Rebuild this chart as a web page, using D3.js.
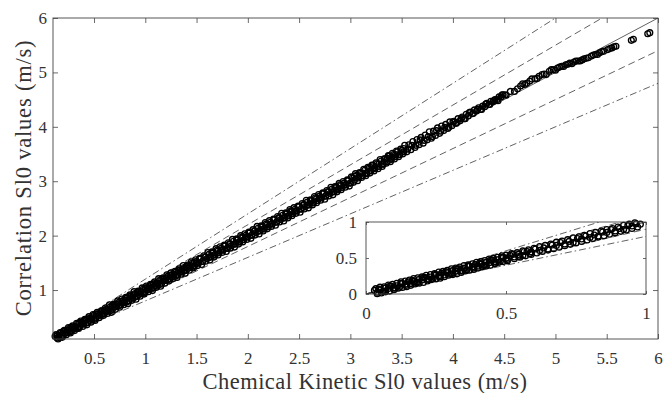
<!DOCTYPE html>
<html><head><meta charset="utf-8">
<script src="https://cdn.jsdelivr.net/npm/d3@7"></script>
<style>
html,body{margin:0;padding:0;background:#fff;}
svg{display:block;}
svg text{font-family:"Liberation Serif","Times New Roman","DejaVu Serif",serif !important;fill:#333;}
</style></head>
<body><svg id="c" width="664" height="393"></svg>
<script>
// ---------- data ----------
const xTicks = [0.5,1,1.5,2,2.5,3,3.5,4,4.5,5,5.5,6];
const yTicks = [1,2,3,4,5,6];
const insetTicks = [0,0.5,1];
const xLabel = "Chemical Kinetic Sl0 values (m/s)";
const yLabel = "Correlation Sl0 values (m/s)";
const refSlopes = [1.2,1.1,1.0,0.9,0.8];
const refStyles = ["dashdot","dashed","solid","dashed","dashdot"];

const kineticSl0 = [
0.12,0.14,0.16,0.18,0.20,0.22,0.24,0.26,0.28,0.30,0.32,0.34,0.36,0.38,0.40,0.42,0.44,0.46,0.48,0.50,
0.52,0.54,0.56,0.58,0.60,0.62,0.64,0.66,0.68,0.70,0.72,0.74,0.76,0.78,0.80,0.82,0.84,0.86,0.88,0.90,
0.92,0.94,0.96,0.98,1.00,1.02,1.04,1.06,1.08,1.10,1.12,1.14,1.16,1.18,1.20,1.22,1.24,1.26,1.28,1.30,
1.32,1.34,1.36,1.38,1.40,1.42,1.44,1.46,1.48,1.50,
1.53,1.56,1.59,1.62,1.65,1.68,1.71,1.74,1.77,1.80,1.83,1.86,1.89,1.92,1.95,1.98,2.01,2.04,2.07,2.10,
2.13,2.16,2.19,2.22,2.25,2.28,2.31,2.34,2.37,2.40,2.43,2.46,2.49,2.52,2.55,2.58,2.61,2.64,2.67,2.70,
2.73,2.76,2.79,2.82,2.85,2.88,2.91,2.94,2.97,3.00,
3.04,3.08,3.12,3.16,3.20,3.24,3.28,3.32,3.36,3.40,3.44,3.48,3.52,3.56,3.60,3.64,3.68,3.72,3.76,3.80,
3.84,3.88,3.92,3.96,4.00,4.04,4.08,4.12,4.16,4.20,4.24,4.28,4.32,4.36,4.40,4.44,4.48,4.52,4.56,4.60,
4.66,4.70,4.75,4.80,4.84,4.89,4.94,4.98,5.02,5.06,5.10,5.14,5.18,5.22,5.26,5.30,5.35,5.39,5.43,5.47,
5.51,5.53,5.55,5.57,5.59,5.74,5.76,5.90,5.92,
4.63,4.68,4.72,4.77,4.82,4.87,4.91,4.96,5.00,5.04,5.08,5.12,5.16,5.20,5.24,5.28,5.32,5.37,5.41,5.45,
0.13,0.17,0.21,0.25,0.29,0.33,0.37,0.41,0.45,0.49,
0.53,0.57,0.61,0.65,0.69,0.73,0.77,0.81,0.85,0.89,
0.93,0.97,1.01,1.05,1.09,1.13,1.17,1.21,1.25,1.29,
1.33,1.37,1.41,1.45,1.49,1.53,1.57,1.61,1.65,1.69,
1.73,1.77,1.81,1.85,1.89,1.93,1.97,2.01,2.05,2.09,
2.13,2.17,2.21,2.25,2.29,2.33,2.37,2.41,2.45,2.49,
2.53,2.57,2.61,2.65,2.69,2.73,2.77,2.81,2.85,2.89,
2.93,2.97,3.01,3.05,3.09,3.13,3.17,3.21,3.25,3.29,
3.33,3.37,3.41,3.45,3.49,3.53,3.57,3.61,3.65,3.69,
3.73,3.77,3.81,3.85,3.89,3.93,3.97,4.01,4.05,4.09,
4.13,4.17,4.21,4.25,4.29,4.33,4.37,4.41,4.45,4.49,
0.15,0.19,0.23,0.27,0.31,0.35,0.39,0.43,0.47,0.51,
0.55,0.59,0.63,0.67,0.71,0.75,0.79,0.83,0.87,0.91,
0.95,0.99,1.03,1.07,1.11,1.15,1.19,1.23,1.27,1.31,
1.35,1.39,1.43,1.47,1.51,1.55,1.59,1.63,1.67,1.71,
1.75,1.79,1.83,1.87,1.91,1.95,1.99,2.03,2.07,2.11,
2.15,2.19,2.23,2.27,2.31,2.35,2.39,2.43,2.47,2.51,
2.55,2.59,2.63,2.67,2.71,2.75,2.79,2.83,2.87,2.91,
2.95,2.99,3.03,3.07,3.11,3.15,3.19,3.23,3.27,3.31,
3.35,3.39,3.43,3.47,3.51,3.55,3.59,3.63,3.67,3.71,
3.75,3.79,3.83,3.87,3.91,3.95,3.99,4.03,4.07,4.11,
4.15,4.19,4.23,4.27,4.31,4.35,4.39,4.43,4.47,4.51,
0.14,0.18,0.22,0.26,0.30,0.34,0.38,0.42,0.46,0.50,
0.54,0.58,0.62,0.66,0.70,0.74,0.78,0.82,0.86,0.90,
0.94,0.98,1.02,1.06,1.10,1.14,1.18,1.22,1.26,1.30,
1.34,1.38,1.42,1.46,1.50,1.54,1.58,1.62,1.66,1.70,
1.74,1.78,1.82,1.86,1.90,1.94,1.98,2.02,2.06,2.10,
2.14,2.18,2.22,2.26,2.30,2.34,2.38,2.42,2.46,2.50,
2.54,2.58,2.62,2.66,2.70,2.74,2.78,2.82,2.86,2.90,
2.94,2.98,3.02,3.06,3.10,3.14,3.18,3.22,3.26,3.30,
3.34,3.38,3.42,3.46,3.50,
0.16,0.20,0.24,0.28,0.32,0.36,0.40,0.44,0.48,0.52,
0.56,0.60,0.64,0.68,0.72,0.76,0.80,0.84,0.88,0.92,
0.96,1.00,1.04,1.08,1.12,1.16,1.20,1.24,1.28,1.32,
1.36,1.40,1.44,1.48,1.52,1.56,1.60,1.64,1.68,1.72,
1.76,1.80,1.84,1.88,1.92,1.96,2.00,2.04,2.08,2.12,
2.16,2.20,2.24,2.28,2.32,2.36,2.40,2.44,2.48,2.52,
2.56,2.60,2.64,2.68,2.72,2.76,2.80,2.84,2.88,2.92,
2.96,3.00,3.04,3.08,3.12,3.16,3.20,3.24,3.28,3.32,
3.36,3.40,3.44,3.48,3.52];
const correlationSl0 = [
0.15,0.12,0.17,0.14,0.24,0.21,0.26,0.23,0.31,0.28,0.33,0.30,0.40,0.37,0.42,0.39,0.47,0.44,0.49,0.46,
0.56,0.53,0.58,0.55,0.63,0.60,0.65,0.62,0.72,0.69,0.74,0.71,0.79,0.76,0.81,0.78,0.88,0.85,0.90,0.87,
0.95,0.92,0.97,0.94,1.04,1.01,1.06,1.03,1.11,1.08,1.13,1.10,1.20,1.17,1.22,1.19,1.27,1.24,1.29,1.26,
1.36,1.33,1.38,1.35,1.43,1.40,1.45,1.42,1.52,1.49,
1.57,1.53,1.61,1.60,1.68,1.64,1.72,1.73,1.81,1.77,1.85,1.84,1.92,1.88,1.96,1.97,2.05,2.01,2.09,2.08,
2.16,2.12,2.20,2.21,2.29,2.25,2.33,2.32,2.40,2.36,2.44,2.45,2.53,2.49,2.57,2.56,2.64,2.60,2.68,2.69,
2.77,2.73,2.81,2.80,2.88,2.84,2.92,2.93,3.01,2.97,
3.09,3.08,3.15,3.15,3.25,3.25,3.32,3.32,3.42,3.42,3.49,3.49,3.60,3.59,3.66,3.66,3.76,3.75,3.82,3.82,
3.93,3.92,3.99,3.99,4.09,4.08,4.15,4.15,4.26,4.25,4.32,4.32,4.42,4.41,4.48,4.48,4.59,4.58,4.65,4.65,
4.75,4.78,4.84,4.88,4.93,4.97,5.02,5.05,5.08,5.11,5.14,5.17,5.19,5.21,5.23,5.26,5.30,5.33,5.36,5.39,
5.42,5.44,5.45,5.47,5.48,5.59,5.61,5.71,5.73,
4.70,4.79,4.80,4.88,4.89,4.96,4.96,5.05,5.04,5.10,5.11,5.15,5.16,5.21,5.21,5.25,5.27,5.32,5.33,5.38,
0.18,0.22,0.26,0.31,0.34,0.39,0.43,0.46,0.51,0.55,
0.59,0.62,0.67,0.73,0.74,0.80,0.835,0.865,0.91,0.97,
0.98,1.04,1.075,1.105,1.15,1.21,1.22,1.28,1.315,1.345,
1.39,1.45,1.46,1.52,1.555,1.585,1.63,1.69,1.70,1.76,
1.795,1.825,1.87,1.93,1.94,2.00,2.035,2.065,2.11,2.17,
2.18,2.24,2.275,2.305,2.35,2.41,2.42,2.48,2.515,2.545,
2.59,2.65,2.66,2.72,2.755,2.785,2.83,2.89,2.90,2.96,
2.995,3.025,3.08,3.14,3.16,3.22,3.255,3.295,3.34,3.40,
3.41,3.47,3.515,3.555,3.59,3.66,3.67,3.73,3.765,3.805,
3.85,3.91,3.92,3.98,4.015,4.045,4.09,4.10,4.15,4.18,
4.23,4.27,4.31,4.35,4.38,4.43,4.47,4.50,4.55,4.59,
0.10,0.13,0.18,0.21,0.255,0.295,0.33,0.36,0.41,0.44,
0.49,0.53,0.57,0.59,0.645,0.685,0.73,0.75,0.81,0.83,
0.885,0.925,0.97,0.99,1.05,1.07,1.125,1.165,1.21,1.23,
1.29,1.31,1.365,1.405,1.45,1.47,1.53,1.55,1.605,1.645,
1.69,1.71,1.77,1.79,1.845,1.885,1.93,1.95,2.01,2.03,
2.085,2.125,2.17,2.19,2.25,2.27,2.325,2.365,2.41,2.43,
2.49,2.51,2.565,2.605,2.65,2.67,2.73,2.75,2.805,2.845,
2.89,2.91,2.98,3.01,3.07,3.10,3.15,3.19,3.23,3.27,
3.33,3.36,3.41,3.45,3.50,3.54,3.58,3.62,3.67,3.70,
3.76,3.79,3.84,3.88,3.93,3.97,4.02,4.06,4.11,4.15,
4.20,4.24,4.29,4.32,4.37,4.41,4.46,4.50,4.55,4.59,
0.165,0.215,0.245,0.295,0.325,0.375,0.405,0.455,0.485,0.535,
0.565,0.615,0.645,0.695,0.725,0.775,0.805,0.855,0.885,0.935,
0.965,1.015,1.045,1.095,1.125,1.175,1.205,1.255,1.285,1.335,
1.365,1.415,1.445,1.495,1.525,1.575,1.605,1.655,1.685,1.735,
1.765,1.815,1.845,1.895,1.925,1.975,2.005,2.055,2.085,2.135,
2.165,2.215,2.245,2.295,2.325,2.375,2.405,2.455,2.485,2.535,
2.565,2.615,2.645,2.695,2.725,2.775,2.805,2.855,2.885,2.935,
2.965,3.015,3.06,3.11,3.15,3.20,3.24,3.29,3.32,3.37,
3.41,3.46,3.49,3.54,3.57,
0.135,0.165,0.215,0.245,0.295,0.325,0.375,0.405,0.455,0.485,
0.535,0.565,0.615,0.645,0.695,0.725,0.775,0.805,0.855,0.885,
0.935,0.965,1.015,1.045,1.095,1.125,1.175,1.205,1.255,1.285,
1.335,1.365,1.415,1.445,1.495,1.525,1.575,1.605,1.655,1.685,
1.735,1.765,1.815,1.845,1.895,1.925,1.975,2.005,2.055,2.085,
2.135,2.165,2.215,2.245,2.295,2.325,2.375,2.405,2.455,2.485,
2.535,2.565,2.615,2.645,2.695,2.725,2.775,2.805,2.855,2.885,
2.935,2.965,3.02,3.06,3.10,3.14,3.19,3.23,3.27,3.31,
3.36,3.40,3.45,3.49,3.54];

const insetX = [
0.03,0.04,0.05,0.06,0.07,0.08,0.09,0.10,0.11,0.12,0.13,0.14,0.15,0.16,0.17,0.18,0.19,0.20,0.21,0.22,
0.23,0.24,0.25,0.26,0.27,0.28,0.29,0.30,0.31,0.32,0.33,0.34,0.35,0.36,0.37,0.38,0.39,0.40,0.41,0.42,
0.43,0.44,0.45,0.46,0.47,0.48,0.49,0.50,
0.515,0.53,0.545,0.56,0.575,0.59,0.605,0.62,0.635,0.65,0.665,0.68,0.695,0.71,0.725,0.74,0.755,0.77,
0.785,0.80,0.815,0.83,0.845,0.86,0.875,0.89,0.905,0.92,0.935,0.95,0.965,0.98,
0.035,0.05,0.065,0.08,0.095,0.11,0.125,0.14,0.155,0.17,0.185,0.20,0.215,0.23,0.245,0.26,0.275,0.29,0.305,0.32,
0.335,0.35,0.365,0.38,0.395,0.41,0.425,0.44,0.455,0.47,0.485,0.50,
0.52,0.54,0.56,0.58,0.60,0.62,0.64,0.66,0.68,0.70,0.72,0.74,0.76,0.78,0.80,0.82,0.84,0.86,0.88,0.90,0.92,0.94,0.96,
0.04,0.055,0.07,0.085,0.10,0.115,0.13,0.145,0.16,0.175,0.19,0.205,0.22,0.235,0.25,0.265,0.28,0.295,0.31,0.325,
0.34,0.355,0.37,0.385,0.40,0.415,0.43,0.445,0.46,0.475,0.49,0.505,
0.53,0.55,0.57,0.59,0.61,0.63,0.65,0.67,0.69,0.71,0.73,0.75,0.77,0.79,0.81,0.83,0.85,0.87,0.89,0.91,0.93,0.95,0.97,
0.045,0.065,0.085,0.105,0.125,0.145,0.165,0.185,0.205,0.225,0.245,0.265,0.285,0.305,0.325,0.345,0.365,0.385,
0.405,0.425,0.445,0.465,0.485,0.505,0.525,0.545,0.565,0.585];
const insetY = [
0.05,0.025,0.055,0.035,0.085,0.075,0.11,0.085,0.115,0.095,0.145,0.135,0.17,0.145,0.175,0.155,0.205,0.195,0.23,0.205,
0.235,0.215,0.265,0.255,0.29,0.265,0.295,0.275,0.325,0.315,0.35,0.325,0.355,0.335,0.385,0.375,0.41,0.385,0.415,0.395,
0.445,0.435,0.47,0.445,0.475,0.455,0.505,0.495,
0.535,0.515,0.55,0.535,0.59,0.585,0.625,0.605,0.64,0.625,0.68,0.675,0.715,0.695,0.73,0.715,0.77,0.765,
0.805,0.785,0.82,0.805,0.86,0.855,0.895,0.875,0.91,0.895,0.95,0.945,0.975,0.97,
0.075,0.095,0.10,0.125,0.135,0.15,0.17,0.18,0.195,0.215,0.225,0.24,0.26,0.27,0.285,0.305,0.315,0.33,0.35,0.36,
0.375,0.395,0.405,0.42,0.44,0.45,0.465,0.485,0.495,0.51,0.53,0.54,
0.56,0.575,0.60,0.615,0.635,0.66,0.675,0.695,0.72,0.735,0.755,0.78,0.795,0.815,0.84,0.855,0.875,0.895,0.91,0.93,0.955,0.97,0.99,
0.005,0.015,0.03,0.04,0.06,0.08,0.09,0.10,0.12,0.14,0.15,0.16,0.18,0.20,0.21,0.22,0.24,0.26,0.27,0.28,
0.30,0.32,0.33,0.34,0.36,0.38,0.39,0.40,0.42,0.44,0.45,0.46,
0.49,0.51,0.53,0.55,0.57,0.59,0.61,0.63,0.65,0.67,0.69,0.71,0.73,0.75,0.77,0.79,0.81,0.83,0.85,0.87,0.89,0.91,0.93,
0.07,0.04,0.11,0.08,0.15,0.12,0.19,0.16,0.23,0.20,0.27,0.24,0.31,0.28,0.35,0.32,0.39,0.36,
0.43,0.40,0.47,0.44,0.51,0.48,0.55,0.52,0.59,0.56];

// ---------- drawing ----------
const FONT = '"Liberation Serif","Times New Roman","DejaVu Serif",serif';
const svg = d3.select("#c").attr("font-family", FONT);
const M = {l:53, r:658, t:18, b:339};
const I = {l:366, r:646, t:222, b:294};
const dash = {solid:null, dashed:"7,4", dashdot:"7,3,1.5,3"};
const axisCol = "#444", lineCol = "#3a3a3a";

function panel(box, xd, yd, xt, yt, tickLen, padX, padY, xs, ys, id, fs){
  const x = d3.scaleLinear().domain(xd).range([box.l, box.r]);
  const y = d3.scaleLinear().domain(yd).range([box.b, box.t]);
  const g = svg.append("g");
  g.append("rect").attr("x",box.l).attr("y",box.t).attr("width",box.r-box.l).attr("height",box.b-box.t)
    .attr("fill","#fff");
  g.append("clipPath").attr("id",id).append("rect")
    .attr("x",box.l).attr("y",box.t).attr("width",box.r-box.l).attr("height",box.b-box.t);
  const lg = g.append("g").attr("clip-path",`url(#${id})`);
  refSlopes.forEach((s,i)=>{
    lg.append("line").attr("x1",x(0)).attr("y1",y(0)).attr("x2",x(10)).attr("y2",y(10*s))
      .attr("stroke",lineCol).attr("stroke-width",0.8).attr("fill","none")
      .attr("stroke-dasharray",dash[refStyles[i]]);
  });
  g.append("g").selectAll("circle").data(xs.map((v,i)=>[v,ys[i]])).join("circle")
    .attr("cx",d=>x(d[0])).attr("cy",d=>y(d[1])).attr("r",2.9)
    .attr("fill","none").attr("stroke","#000").attr("stroke-width",1.35);
  const style = (a)=>{a.attr("font-family",FONT); a.select(".domain").remove();
    a.selectAll("line").attr("stroke",axisCol).attr("stroke-width",0.8);
    a.selectAll("text").attr("font-size",fs).attr("fill","#333").attr("font-family",FONT);};
  g.append("g").attr("transform",`translate(0,${box.b})`)
    .call(d3.axisBottom(x).tickValues(xt).tickSize(-tickLen).tickPadding(padX).tickFormat(d3.format("~g"))).call(style);
  g.append("g").attr("transform",`translate(0,${box.t})`)
    .call(d3.axisTop(x).tickValues(xt).tickSize(-tickLen).tickFormat("")).call(style);
  g.append("g").attr("transform",`translate(${box.l},0)`)
    .call(d3.axisLeft(y).tickValues(yt).tickSize(-tickLen).tickPadding(padY).tickFormat(d3.format("~g"))).call(style);
  g.append("g").attr("transform",`translate(${box.r},0)`)
    .call(d3.axisRight(y).tickValues(yt).tickSize(-tickLen).tickFormat("")).call(style);
  g.append("rect").attr("x",box.l).attr("y",box.t).attr("width",box.r-box.l).attr("height",box.b-box.t)
    .attr("fill","none").attr("stroke",axisCol).attr("stroke-width",0.9);
  return g;
}

panel(M,[0.1,6],[0.1,6],xTicks,yTicks,5,13,6,kineticSl0,correlationSl0,"cm",17);
panel(I,[0,1],[0,1],insetTicks,insetTicks,3,13,9,insetX,insetY,"ci",17);

svg.append("text").attr("x",365).attr("y",389).attr("text-anchor","middle")
  .attr("font-size",22.5).attr("letter-spacing",0.45).attr("fill","#333").attr("font-family",FONT).text(xLabel);
svg.append("text").attr("transform","translate(31,178) rotate(-90)").attr("text-anchor","middle")
  .attr("font-size",22.5).attr("letter-spacing",0.8).attr("fill","#333").attr("font-family",FONT).text(yLabel);
</script></body></html>
